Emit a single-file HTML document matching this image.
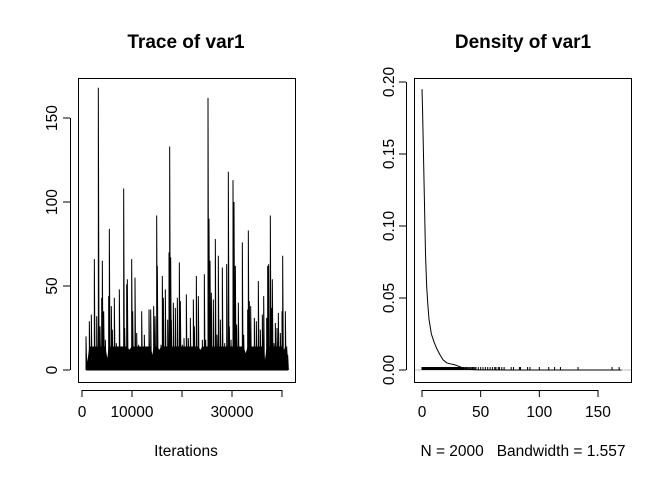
<!DOCTYPE html>
<html><head><meta charset="utf-8"><style>
html,body{margin:0;padding:0;background:#fff;}
svg text{font-family:"Liberation Sans",Arial,sans-serif;fill:#000;}
</style></head><body>
<svg id="chart" width="672" height="480" xmlns="http://www.w3.org/2000/svg">
<text x="186" y="48" font-size="19" font-weight="bold" text-anchor="middle">Trace of var1</text>
<text x="523" y="48" font-size="19" font-weight="bold" text-anchor="middle">Density of var1</text>
<rect x="78.5" y="78.5" width="217" height="304" fill="none" stroke="#000"/>
<rect x="414.5" y="78.5" width="217" height="304" fill="none" stroke="#000"/>
<g id="trace"></g>
<g id="density"></g>
<g id="axes"></g>
<text x="186" y="456" font-size="15.5" text-anchor="middle">Iterations</text>
<text x="523" y="456" font-size="15.5" text-anchor="middle" xml:space="preserve">N = 2000   Bandwidth = 1.557</text>
</svg>
<script>
// Trace data (zoom-pixel positions converted to iterations below)
const tracePos = [258,262,268,274,283,290,295,300,305,307,311,316,322,326,328,334,337,343,349,358,366,371,374,380,382,388,395,398,405,410,416,425,433,441,447,452,457,461,465,470,472,478,483,487,490,496,503,507,509,512,514,520,526,532,538,541,547,552,559,565,571,580,583,589,595,601,607,613,617,624,627,630,634,640,646,651,655,661,667,674,680,685,688,693,699,702,706,710,715,719,727,731,737,743,745,748,752,757,763,769,775,781,787,791,795,800,803,806,811,815,817,822,826,831,835,841,846,848,852,856,860,863];
const traceIter = tracePos.map(z => (z/3 - 82) * 200);
const traceVal = [20,5,29,33,66,32,168,26,43,65,35,18,7,44,84,38,24,43,16,48,14,108,25,51,54,12,66,35,55,22,15,35,21,14,36,36,9,38,32,92,62,12,15,56,43,48,30,70,133,67,30,40,37,43,64,41,15,19,45,19,31,42,26,56,44,12,18,57,18,162,90,65,46,42,78,21,68,30,61,16,63,118,26,18,113,100,62,27,40,14,76,21,10,36,83,41,38,14,31,29,53,24,33,44,6,31,62,63,92,37,54,16,28,25,34,22,35,68,12,35,14,9];
const traceXTicks = [0,10000,20000,30000,40000];
const traceXLabels = ["0","10000","","30000",""];
const traceYTicks = [0,50,100,150];
// Density data
const densX = [0,0.5,1,1.5,2,2.5,3,4,5,6,8,10,12.5,15,18,21,24,27,30,33,36,40,45,50,60,80,120,170];
const densY = [0.195,0.18,0.16,0.14,0.12,0.1,0.08,0.058,0.045,0.035,0.025,0.02,0.015,0.011,0.007,0.005,0.0043,0.0038,0.003,0.002,0.001,0.0005,0.0002,0.0001,0.00005,0.00002,0.00001,0];
const rugVals = [37,38,39,40,41,42,43,44,45,46,48,50,52,54,56,58,60,62,63,65,66,68,70,76,78,83,84,90,92,100,108,113,118,133,162,168];
const densXTicks = [0,50,100,150];
const densYTicks = [0,0.05,0.1,0.15,0.2];
const densYLabels = ["0.00","0.05","0.10","0.15","0.20"];

const NS="http://www.w3.org/2000/svg";
function mk(tag, attrs, parent){const e=document.createElementNS(NS,tag);for(const k in attrs)e.setAttribute(k,attrs[k]);parent.appendChild(e);return e;}
const tx = i => 82 + i/200;
const ty = v => 370 - v*1.68;
const dx = v => 422 + v*1.1733;
const dy = v => 370 - v*1440;

const tg=document.getElementById('trace');
let band="M"+tx(traceIter[0])+","+ty(0);
traceIter.forEach((it,i)=>{band+=" L"+tx(it)+","+ty(Math.min(traceVal[i],14));});
band+=" L"+tx(traceIter[traceIter.length-1])+","+ty(0)+" Z";
const bp=mk('path',{d:band,fill:"#000"},tg);


let d="";
traceIter.forEach((it,i)=>{const x=tx(it);d+=(i?" L":"M")+x+","+ty(0)+" L"+x+","+ty(traceVal[i])+" L"+(x+0.7)+","+ty(0);});
const tl=mk('path',{d:d,fill:"none",stroke:"#000","stroke-width":1},tg);



const ax=document.getElementById('axes');
mk('line',{x1:tx(0),x2:tx(40000),y1:390.5,y2:390.5,stroke:"#000"},ax);
traceXTicks.forEach((t,i)=>{mk('line',{x1:tx(t),x2:tx(t),y1:390,y2:397,stroke:"#000"},ax);
 if(traceXLabels[i]){const e=mk('text',{x:tx(t),y:417,"font-size":15.5,"text-anchor":"middle"},ax);e.textContent=traceXLabels[i];
 }});
mk('line',{x1:70.5,x2:70.5,y1:ty(0),y2:ty(150),stroke:"#000"},ax);
traceYTicks.forEach(t=>{mk('line',{x1:63,x2:70,y1:ty(t),y2:ty(t),stroke:"#000"},ax);
 const e=mk('text',{x:0,y:0,"font-size":15.5,"text-anchor":"middle",transform:"translate(57,"+ty(t)+") rotate(-90)"},ax);e.textContent=t;
 });

const dg=document.getElementById('density');
const gl=mk('line',{x1:415,x2:631,y1:dy(0),y2:dy(0),stroke:"#bebebe"},dg);

let rd="";
for(let v=0;v<=36;v+=0.4){rd+="M"+dx(v)+","+dy(0)+" v-3 ";}
rugVals.forEach(v=>{rd+="M"+dx(v)+","+dy(0)+" v-3 ";});
const rug=mk('path',{d:rd,stroke:"#000","stroke-width":1},dg);

const pts=densX.map((x,i)=>dx(x)+","+dy(densY[i])).join(" ");
const dl=mk('polyline',{points:pts,fill:"none",stroke:"#000","stroke-width":1},dg);

mk('line',{x1:dx(0),x2:dx(150),y1:390.5,y2:390.5,stroke:"#000"},ax);
densXTicks.forEach(t=>{mk('line',{x1:dx(t),x2:dx(t),y1:390,y2:397,stroke:"#000"},ax);
 const e=mk('text',{x:dx(t),y:417,"font-size":15.5,"text-anchor":"middle"},ax);e.textContent=t;
 });
mk('line',{x1:406.5,x2:406.5,y1:dy(0),y2:dy(0.2),stroke:"#000"},ax);
densYTicks.forEach((t,i)=>{mk('line',{x1:399,x2:406,y1:dy(t),y2:dy(t),stroke:"#000"},ax);
 const e=mk('text',{x:0,y:0,"font-size":15.5,"text-anchor":"middle",transform:"translate(394,"+dy(t)+") rotate(-90)"},ax);e.textContent=densYLabels[i];
 });
</script>
</body></html>
